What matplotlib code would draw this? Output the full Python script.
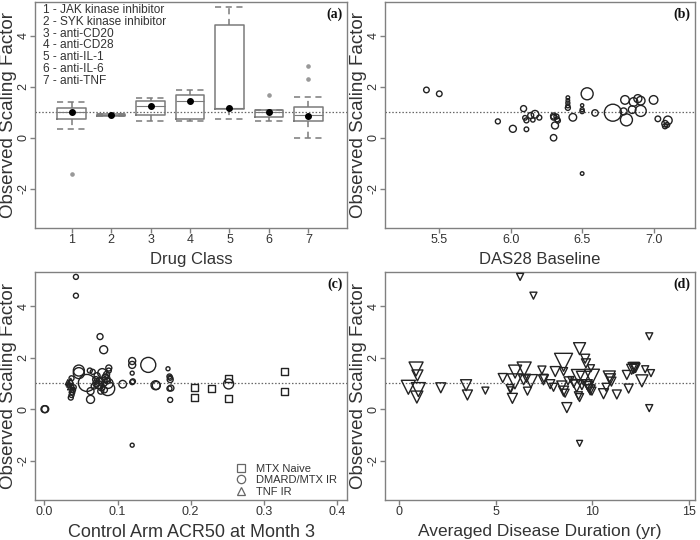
import matplotlib
matplotlib.use("Agg")
import matplotlib.pyplot as plt
from matplotlib.lines import Line2D
import numpy as np

plt.rcParams['font.family'] = ['Liberation Sans', 'DejaVu Sans']

# ---------------- Panel (a): drug class box plots ----------------
drug_classes = [1, 2, 3, 4, 5, 6, 7]
drug_names = ["JAK kinase inhibitor", "SYK kinase inhibitor", "anti-CD20",
              "anti-CD28", "anti-IL-1", "anti-IL-6", "anti-TNF"]
a_whislo = [0.34, 0.86, 0.65, 0.67, 0.74, 0.65, -0.01]
a_q1     = [0.75, 0.86, 0.90, 0.73, 1.13, 0.83, 0.65]
a_med    = [1.00, 0.89, 1.25, 1.45, 1.15, 1.00, 0.90]
a_q3     = [1.17, 0.92, 1.45, 1.69, 4.40, 1.10, 1.19]
a_whishi = [1.39, 0.92, 1.56, 1.87, 5.13, 1.10, 1.58]
a_mean   = [0.99, 0.89, 1.25, 1.45, 1.18, 1.00, 0.87]
a_fliers = [[-1.43], [], [], [], [], [1.69], [2.30, 2.82]]

# ---------------- Panel (b): DAS28 baseline ----------------
b_das28 = [5.41, 5.50, 5.91, 6.015, 6.09, 6.11, 6.10, 6.11, 6.14, 6.155, 6.17, 6.20,
           6.30, 6.30, 6.31, 6.30, 6.32, 6.325, 6.33, 6.40, 6.40, 6.40, 6.40, 6.40,
           6.435, 6.50, 6.50, 6.50, 6.50, 6.535, 6.59, 6.715, 6.79, 6.80, 6.81, 6.85,
           6.86, 6.89, 6.91, 6.91, 7.00, 7.03, 7.08, 7.10, 7.08, 7.095]
b_osf = [1.87, 1.72, 0.64, 0.35, 1.14, 0.33, 0.78, 0.68, 0.87, 0.70, 0.92, 0.79,
         0.85, 0.80, 0.48, 0.00, 0.83, 0.72, 0.67, 1.57, 1.46, 1.36, 1.25, 1.17,
         0.80, 1.27, 1.10, 1.03, -1.40, 1.72, 0.97, 0.98, 1.03, 1.48, 0.70, 1.10,
         1.40, 1.53, 1.45, 1.05, 1.48, 0.74, 0.55, 0.68, 0.45, 0.50]
b_size = [2.8, 2.8, 2.5, 3.5, 3.0, 2.3, 2.3, 2.5, 3.0, 2.2, 3.8, 2.5,
          3.0, 2.8, 3.5, 3.2, 2.5, 2.5, 2.5, 1.8, 1.8, 2.0, 2.0, 2.5,
          3.8, 1.6, 2.0, 2.2, 1.8, 6.0, 3.2, 8.5, 3.5, 4.3, 6.0, 3.8,
          4.3, 4.0, 4.3, 5.5, 4.3, 2.8, 3.2, 4.3, 2.5, 2.5]

# ---------------- Panel (c): control arm ACR50 ----------------
c_mtx_x = [0.205, 0.205, 0.228, 0.252, 0.252, 0.328, 0.328]
c_mtx_y = [0.83, 0.47, 0.80, 1.21, 0.41, 1.46, 0.67]
c_mtx_s = [3.5, 3.5, 3.5, 3.5, 3.5, 3.5, 3.5]

c_dmard_x = [0.000, 0.001, 0.043, 0.043, 0.047, 0.047, 0.058, 0.063, 0.063, 0.062,
             0.066, 0.070, 0.072, 0.074, 0.076, 0.078, 0.079, 0.080, 0.081, 0.082,
             0.084, 0.085, 0.0865, 0.087, 0.088, 0.088, 0.086, 0.107, 0.120, 0.120,
             0.120, 0.120, 0.121, 0.120, 0.142, 0.152, 0.153, 0.169, 0.171, 0.172,
             0.172, 0.173, 0.171, 0.172, 0.252, 0.036, 0.037, 0.038, 0.039, 0.040,
             0.037, 0.068, 0.075, 0.083, 0.077, 0.071]
c_dmard_y = [0.00, 0.00, 5.14, 4.41, 1.50, 1.40, 1.02, 0.38, 0.70, 1.50,
             1.45, 1.15, 1.30, 0.95, 2.82, 0.85, 1.40, 1.05, 2.31, 0.75,
             1.20, 1.35, 0.80, 1.00, 1.60, 1.50, 1.10, 0.97, 1.87, 1.72,
             1.40, 1.05, 1.08, -1.40, 1.72, 0.93, 0.92, 1.57, 1.27, 1.15,
             1.22, 0.82, 0.80, 0.36, 0.98, 0.45, 0.55, 0.65, 0.75, 0.85,
             1.20, 0.90, 1.10, 1.25, 0.70, 1.00]
c_dmard_s = [3.5, 3.5, 2.5, 2.5, 5.5, 5.5, 8.5, 4.0, 3.5, 2.5,
             2.5, 3.0, 3.0, 4.0, 3.0, 3.5, 4.5, 4.5, 4.0, 3.0,
             4.0, 3.0, 7.0, 5.0, 3.0, 2.5, 3.0, 3.8, 3.5, 3.5,
             2.0, 2.5, 2.5, 2.0, 7.5, 4.5, 4.0, 2.0, 2.5, 3.0,
             2.5, 3.0, 2.5, 2.5, 5.0, 2.5, 2.5, 2.5, 2.5, 2.5,
             2.5, 3.0, 3.0, 3.0, 3.0, 3.5]

c_tnf_x = [0.032, 0.034, 0.035, 0.036, 0.037, 0.038, 0.033]
c_tnf_y = [1.05, 0.95, 0.85, 1.10, 0.75, 0.90, 1.00]
c_tnf_s = [2.5, 2.5, 2.5, 2.5, 2.5, 2.5, 2.5]

# ---------------- Panel (d): disease duration ----------------
d_dur = [0.48, 0.88, 0.95, 1.00, 0.92, 2.16, 3.47, 3.54, 4.47, 5.37,
         5.75, 5.78, 5.87, 6.01, 6.00, 6.48, 6.45, 6.60, 6.65, 6.83,
         6.27, 6.96, 7.40, 7.48, 7.50, 7.83, 8.00, 8.09, 8.43, 8.52,
         8.52, 8.52, 8.60, 8.69, 8.75, 8.90, 9.05, 9.20, 9.29, 9.29,
         9.35, 9.35, 9.35, 9.47, 9.55, 9.64, 9.68, 9.75, 9.81, 9.85,
         9.90, 9.94, 9.99, 9.99, 10.59, 10.73, 10.89, 10.95, 11.00, 11.28,
         11.80, 11.89, 12.05, 12.15, 12.20, 12.25, 12.58, 12.75, 12.96, 13.05,
         12.96]
d_osf = [0.85, 1.56, 1.31, 0.76, 0.47, 0.83, 0.93, 0.55, 0.72, 1.21,
         0.80, 0.75, 0.42, 1.46, 1.08, 1.56, 1.14, 1.20, 0.70, 1.09,
         5.14, 4.41, 1.52, 1.14, 1.20, 0.97, 0.85, 1.46, 0.90, 1.82,
         1.46, 0.70, 0.62, 0.06, 1.10, 1.15, 1.00, 0.90, 1.27, 0.52,
         0.45, 2.35, -1.33, 0.95, 1.20, 1.96, 1.78, 0.95, 0.88, 0.80,
         0.75, 1.59, 1.26, 0.70, 0.60, 0.85, 1.25, 1.18, 1.07, 0.57,
         1.33, 0.80, 1.55, 1.60, 1.62, 1.60, 1.10, 1.55, 2.83, 1.40,
         0.04]
d_size = [7.0, 7.0, 5.5, 7.0, 6.0, 5.0, 5.5, 5.0, 3.5, 4.5,
          4.0, 3.0, 5.0, 6.5, 7.5, 7.0, 5.0, 4.0, 4.0, 6.5,
          3.5, 3.5, 4.0, 5.0, 4.0, 4.5, 4.0, 5.0, 5.0, 9.0,
          4.0, 5.0, 4.0, 5.0, 4.0, 3.0, 4.0, 6.0, 7.0, 4.0,
          4.0, 6.0, 3.0, 5.0, 7.0, 4.5, 4.5, 5.0, 5.0, 4.0,
          5.0, 3.5, 7.5, 4.0, 5.0, 4.0, 6.0, 5.0, 4.5, 4.5,
          4.5, 4.5, 5.0, 5.5, 5.0, 4.5, 6.0, 3.5, 3.5, 3.5,
          3.5]

YLIM = (-3.53, 5.33)
FRAME = "#808080"
TXT = "#333333"
EDGE = "#222222"
PX2PT = 0.72  # 100 dpi


def size_to_area(r):
    return (2 * np.asarray(r) * PX2PT) ** 2


def style_axes(ax, xticks, xticklabels, xlabel, xlim, label, xfs):
    ax.set_xlim(*xlim)
    ax.set_ylim(*YLIM)
    for s in ax.spines.values():
        s.set_color(FRAME)
        s.set_linewidth(1.0)
    ax.set_yticks([-2, 0, 2, 4])
    ax.set_yticklabels(["-2", "0", "2", "4"], rotation=90, va="center")
    ax.set_xticks(xticks)
    ax.set_xticklabels(xticklabels)
    ax.tick_params(axis="both", colors=FRAME, labelcolor=TXT, labelsize=9,
                   length=3.6, width=1, direction="out")
    ax.tick_params(axis="x", pad=0.8)
    ax.tick_params(axis="y", pad=0.3)
    ax.set_xlabel(xlabel, fontsize=xfs, color=TXT, labelpad=4)
    ax.set_ylabel("Observed Scaling Factor", fontsize=13.5, color=TXT, labelpad=0.5)
    ax.axhline(1.0, color="#666666", lw=0.9, ls=(0, (1.2, 1.5)), zorder=1)
    ax.text(0.985, 0.975, label, transform=ax.transAxes, ha="right", va="top",
            fontsize=10, fontweight="bold", family="Liberation Serif", color="#111111")


fig = plt.figure(figsize=(7.0, 5.4), dpi=100)
W, H = 700.0, 540.0
ax_a = fig.add_axes([35 / W, 1 - 228 / H, 312 / W, 226.5 / H])
ax_b = fig.add_axes([385 / W, 1 - 228 / H, 310 / W, 226.5 / H])
ax_c = fig.add_axes([35 / W, 1 - 500 / H, 312 / W, 228 / H])
ax_d = fig.add_axes([385 / W, 1 - 500 / H, 310 / W, 228 / H])

# ---- (a)
stats = []
for i in range(len(drug_classes)):
    stats.append(dict(whislo=a_whislo[i], q1=a_q1[i], med=a_med[i], q3=a_q3[i],
                      whishi=a_whishi[i], fliers=a_fliers[i], mean=a_mean[i]))
box_grey = "#7a7a7a"
ax_a.bxp(stats, positions=drug_classes, widths=0.72, showmeans=True,
         showfliers=True, patch_artist=False,
         boxprops=dict(color=box_grey, lw=1.1),
         whiskerprops=dict(color=box_grey, lw=1.1, ls=(0, (4, 3))),
         capprops=dict(color=box_grey, lw=1.1, ls=(0, (4, 3))),
         capwidths=0.72,
         medianprops=dict(color=box_grey, lw=0.8),
         meanprops=dict(marker="o", markerfacecolor="black", markeredgecolor="black",
                        markersize=4),
         flierprops=dict(marker="o", markerfacecolor="#999999", markeredgecolor="#999999",
                         markersize=2.3))
style_axes(ax_a, drug_classes, [str(c) for c in drug_classes], "Drug Class",
           (0.07, 7.98), "(a)", 12)
legend_txt = "\n".join(f"{c} - {n}" for c, n in zip(drug_classes, drug_names))
ax_a.text(0.025, 0.99, legend_txt, transform=ax_a.transAxes, ha="left", va="top",
          fontsize=8.6, color=TXT, linespacing=0.99)

# ---- (b)
ax_b.scatter(b_das28, b_osf, s=size_to_area(b_size), facecolors="none",
             edgecolors=EDGE, linewidths=1.0, zorder=3)
style_axes(ax_b, [5.5, 6.0, 6.5, 7.0], ["5.5", "6.0", "6.5", "7.0"],
           "DAS28 Baseline", (5.12, 7.29), "(b)", 12)

# ---- (c)
ax_c.scatter(c_mtx_x, c_mtx_y, s=size_to_area(c_mtx_s), marker="s", facecolors="none",
             edgecolors=EDGE, linewidths=1.0, zorder=3)
ax_c.scatter(c_dmard_x, c_dmard_y, s=size_to_area(c_dmard_s), marker="o",
             facecolors="none", edgecolors=EDGE, linewidths=1.0, zorder=3)
ax_c.scatter(c_tnf_x, c_tnf_y, s=size_to_area(c_tnf_s), marker="^", facecolors="none",
             edgecolors=EDGE, linewidths=1.0, zorder=3)
style_axes(ax_c, [0.0, 0.1, 0.2, 0.3, 0.4], ["0.0", "0.1", "0.2", "0.3", "0.4"],
           "Control Arm ACR50 at Month 3", (-0.013, 0.414), "(c)", 13)
handles = [Line2D([], [], ls="none", marker=m, markerfacecolor="none",
                  markeredgecolor="#666666", markersize=6, markeredgewidth=0.9)
           for m in ["s", "o", "^"]]
ax_c.legend(handles, ["MTX Naive", "DMARD/MTX IR", "TNF IR"], loc="lower left",
            bbox_to_anchor=(0.628, -0.005), frameon=False, fontsize=8,
            labelcolor=TXT, handletextpad=0.82, borderaxespad=0.0,
            labelspacing=0.12, handlelength=1.0)

# ---- (d)
ax_d.scatter(d_dur, d_osf, s=size_to_area(d_size), marker="v", facecolors="none",
             edgecolors=EDGE, linewidths=1.0, zorder=3)
style_axes(ax_d, [0, 5, 10, 15], ["0", "5", "10", "15"],
           "Averaged Disease Duration (yr)", (-0.73, 15.33), "(d)", 12.5)

fig.savefig("out.png", dpi=100)
